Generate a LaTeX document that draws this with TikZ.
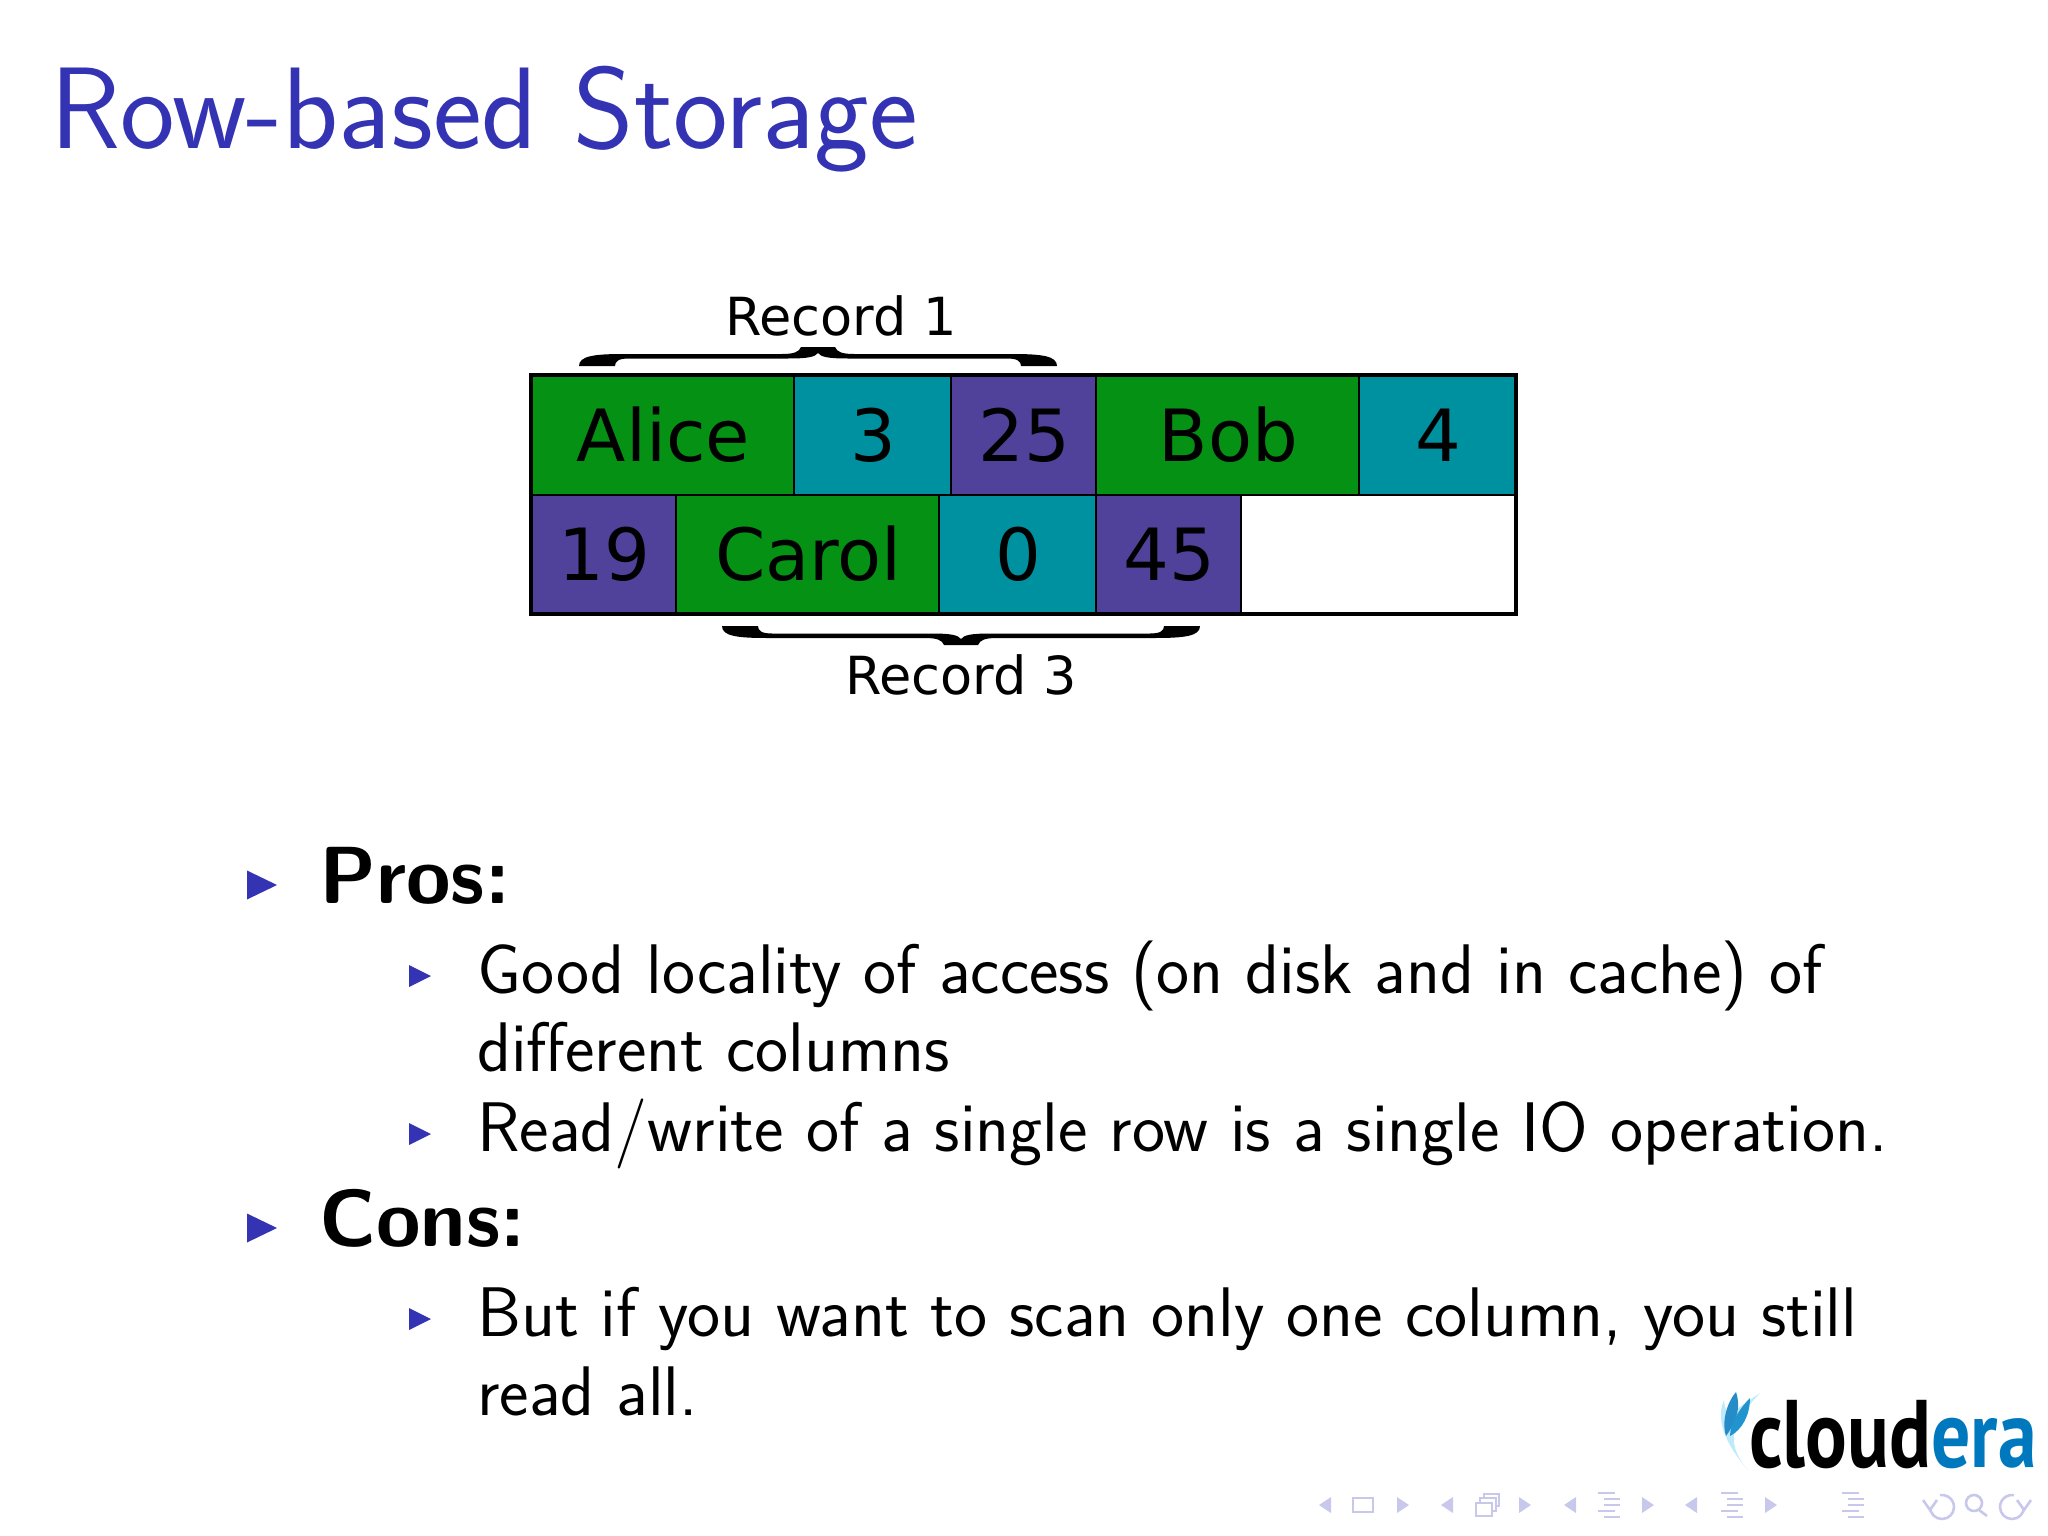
\documentclass[tikz,border=0pt]{standalone}
\usepackage{fontspec}
\newfontfamily\cellfont{DejaVu Sans}
\newfontfamily\logofont{PT Sans}
\usetikzlibrary{positioning}
\definecolor{titleblue}{RGB}{51,51,179}
\definecolor{cellgreen}{RGB}{5,145,20}
\definecolor{cellteal}{RGB}{0,145,160}
\definecolor{cellpurple}{RGB}{80,65,155}
\definecolor{navblue}{RGB}{200,200,236}
\definecolor{logoblue}{RGB}{0,120,190}
\tikzset{
  cell/.style = {draw=black, line width=2pt, inner sep=0pt, outer sep=0pt, minimum height=119.5pt,
    font=\cellfont\fontsize{72}{80}\selectfont, text height=53pt, text depth=0pt,
    execute at begin node=\hspace{2pt}},
  wide/.style = {cell, minimum width=263pt},
  mid/.style = {cell, minimum width=157pt},
  slim/.style = {cell, minimum width=145pt},
  recordlabel/.style = {anchor=base, inner sep=0pt, font=\cellfont\fontsize{52.5}{60}\selectfont},
  bodytext/.style = {anchor=base west, inner sep=0pt, font=\sffamily\fontsize{70.2}{80}\selectfont},
  headtext/.style = {anchor=base west, inner sep=0pt, font=\sffamily\bfseries\fontsize{81}{90}\selectfont},
  navicon/.style = {draw=navblue, line width=2.6pt},
  recordbrace/.pic = {
    \fill[black] (-17,0) -- (17,0) .. controls (19,5) and (24,7) .. (36,7) -- (194,7)
      .. controls (224,7) and (239,9) .. (239,19) -- (203,19)
      .. controls (203,14) and (199,11.5) .. (189,11.5) -- (30,11.5)
      .. controls (10,11.5) and (3,10) .. (0,6)
      .. controls (-3,10) and (-10,11.5) .. (-30,11.5) -- (-189,11.5)
      .. controls (-199,11.5) and (-203,14) .. (-203,19) -- (-239,19)
      .. controls (-239,9) and (-224,7) .. (-194,7) -- (-36,7)
      .. controls (-24,7) and (-19,5) .. (-17,0) -- cycle;
  },
  bigbullet/.pic = {\fill[titleblue] (0,-14.5) -- (30,0) -- (0,14.5) -- cycle;},
  smallbullet/.pic = {\fill[titleblue] (0,-11) -- (22,0) -- (0,11) -- cycle;},
  navleft/.pic = {\fill[navblue] (6,-8) -- (6,8) -- (-6,0) -- cycle;},
  navright/.pic = {\fill[navblue] (-6,-8) -- (-6,8) -- (6,0) -- cycle;},
  navlines/.pic = {
    \foreach \yy/\xa/\xb in {-12/-11/6, -6/-5/11, 0/-5/11, 6/-11/6, 12/-5/11}
      \draw[navblue, line width=2.6pt] (\xa,\yy) -- (\xb,\yy);
  }
}
\begin{document}
\begin{tikzpicture}[x=1pt, y=-1pt]
  \useasboundingbox (0,0) rectangle (2048,1536);
  % title
  \node[anchor=base west, inner sep=0pt, text=titleblue, font=\sffamily\fontsize{116}{130}\selectfont] (title) at (50,149) {Row-based Storage};
  % first row
  \node[wide, fill=cellgreen, anchor=north west] (alice) at (531,375) {Alice};
  \node[mid, fill=cellteal, right=0pt of alice] (three) {3};
  \node[slim, fill=cellpurple, right=0pt of three] (twentyfive) {25};
  \node[wide, fill=cellgreen, right=0pt of twentyfive] (bob) {Bob};
  \node[mid, fill=cellteal, right=0pt of bob] (four) {4};
  % second row
  \node[slim, fill=cellpurple, below=0pt of alice.south west, anchor=north west] (nineteen) {19};
  \node[wide, fill=cellgreen, right=0pt of nineteen] (carol) {Carol};
  \node[mid, fill=cellteal, right=0pt of carol] (zero) {0};
  \node[slim, fill=cellpurple, right=0pt of zero] (fortyfive) {45};
  \draw[line width=4.5pt] (alice.north west) rectangle (four.east |- nineteen.south);
  % braces
  \pic at (818,347) {recordbrace};
  \pic[yscale=-1] at (961,645) {recordbrace};
  \node[recordlabel] (record1) at (841,335) {Record 1};
  \node[recordlabel] (record3) at (961,694) {Record 3};
  % items
  \pic at (247,885) {bigbullet};
  \node[headtext] (pros) at (319,903) {Pros:};
  \pic at (409,976) {smallbullet};
  \node[bodytext] (good) at (477,993) {Good locality of access (on disk and in cache) of};
  \node[bodytext] (different) at (477,1071) {different columns};
  \pic at (409,1134) {smallbullet};
  \node[bodytext] (read) at (477,1151) {Read/write of a single row is a single IO operation.};
  \pic at (247,1228) {bigbullet};
  \node[headtext] (cons) at (319,1246) {Cons:};
  \pic at (409,1319) {smallbullet};
  \node[bodytext] (but) at (477,1336) {But if you want to scan only one column, you still};
  \node[bodytext] (readall) at (477,1415) {read all.};
  % logo
  \fill[cyan!25] (1760,1393) .. controls (1735,1420) and (1722,1440) .. (1748,1470) .. controls (1726,1445) and (1715,1420) .. (1724,1400) .. controls (1725,1420) and (1735,1410) .. cycle;
  \fill[logoblue!85] (1736,1392) .. controls (1725,1405) and (1722,1425) .. (1726,1436) .. controls (1734,1425) and (1742,1410) .. cycle;
  \fill[cyan!55!logoblue] (1750,1398) .. controls (1738,1410) and (1730,1425) .. (1730,1436) .. controls (1742,1430) and (1750,1415) .. cycle;
  \node[anchor=base west, inner sep=0pt, xscale=0.81, font=\logofont\bfseries\fontsize{96}{100}\selectfont] (logo) at (1749,1467) {cloud\textcolor{logoblue}{era}};
  % navigation symbols
  \foreach \xx in {1325,1447,1570,1691} \pic at (\xx,1505) {navleft};
  \foreach \xx in {1403,1525,1648,1771} \pic at (\xx,1505) {navright};
  \draw[navicon] (1353,1498) rectangle (1373,1512);
  \draw[navicon] (1476,1503) rectangle (1492,1516);
  \draw[navicon] (1480,1503) -- (1480,1498) -- (1496,1498) -- (1496,1511) -- (1492,1511);
  \draw[navicon] (1484,1498) -- (1484,1494) -- (1499,1494) -- (1499,1506) -- (1496,1506);
  \foreach \xx in {1609,1732,1853} \pic at (\xx,1505) {navlines};
  \draw[navicon] (1930,1507) arc (180:-100:12);
  \draw[navicon] (1923,1500) -- (1930,1510) -- (1937,1500);
  \draw[navicon] (1974,1503) circle (8);
  \draw[navicon] (1979,1510) -- (1987,1516);
  \draw[navicon] (2024,1507) arc (0:280:12);
  \draw[navicon] (2017,1500) -- (2024,1510) -- (2031,1500);
\end{tikzpicture}
\end{document}
